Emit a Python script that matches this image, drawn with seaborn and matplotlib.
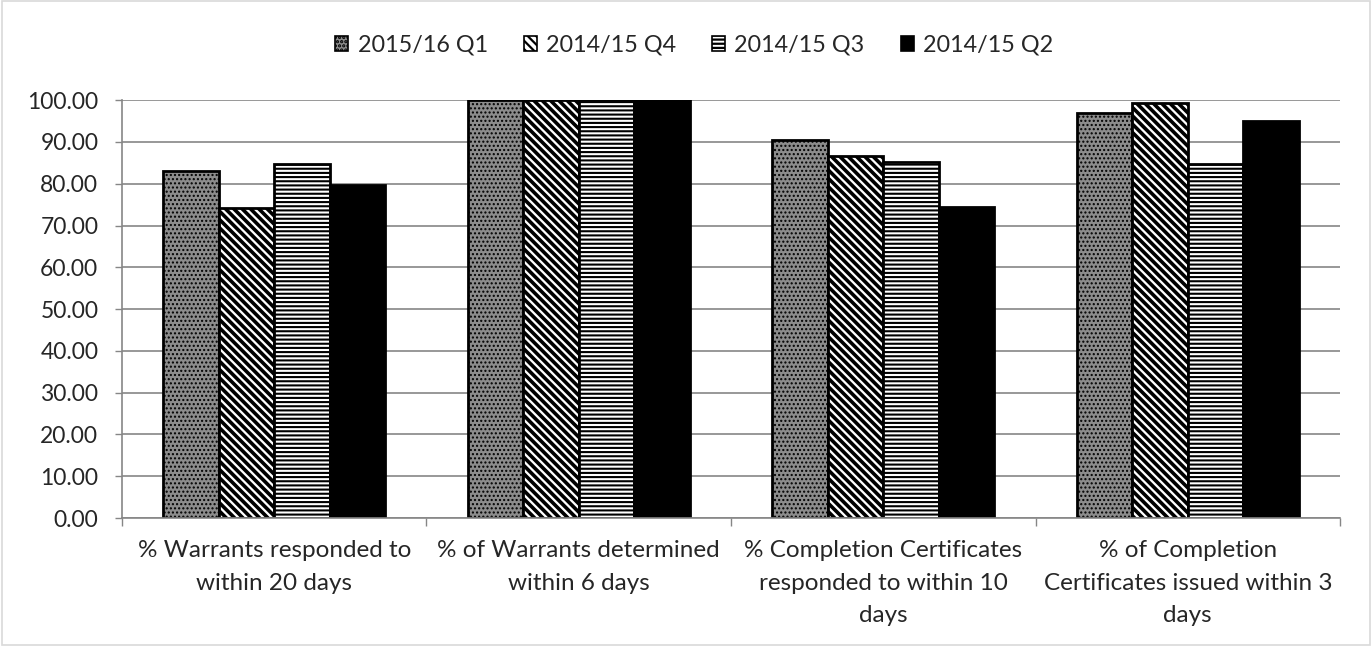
import matplotlib
matplotlib.use("Agg")
import matplotlib.pyplot as plt
import seaborn as sns
import pandas as pd
from matplotlib.patches import Rectangle, Patch

categories = [
    "% Warrants responded to\nwithin 20 days",
    "% of Warrants determined\nwithin 6 days",
    "% Completion Certificates\nresponded to within 10\ndays",
    "% of Completion\nCertificates issued within 3\ndays",
]
series = ["2015/16 Q1", "2014/15 Q4", "2014/15 Q3", "2014/15 Q2"]
q1_1516 = [83.0, 100.0, 90.5, 97.0]
q4_1415 = [74.3, 100.0, 86.6, 99.3]
q3_1415 = [84.6, 100.0, 85.3, 84.8]
q2_1415 = [79.6, 100.0, 74.4, 94.9]
y_ticks = [0, 10, 20, 30, 40, 50, 60, 70, 80, 90, 100]

values = [q1_1516, q4_1415, q3_1415, q2_1415]
rows = []
for s, vals in zip(series, values):
    for c, v in zip(categories, vals):
        rows.append({"category": c, "series": s, "value": v})
df = pd.DataFrame(rows)

sns.set_theme(style="white")
plt.rcParams["font.family"] = ["Lato", "DejaVu Sans"]
plt.rcParams["hatch.linewidth"] = 1.6

styles = {
    "2015/16 Q1": dict(facecolor="#8c8c8c", hatch="....", hcolor="white", hlw=1.0),
    "2014/15 Q4": dict(facecolor="white", hatch="\\\\\\\\", hcolor="black", hlw=2.6),
    "2014/15 Q3": dict(facecolor="white", hatch="----", hcolor="black", hlw=1.5),
    "2014/15 Q2": dict(facecolor="black", hatch="", hcolor="black", hlw=1.0),
}


def style_patch(p, st, lw):
    p.set_facecolor(st["facecolor"])
    p.set_hatch(st["hatch"])
    p.set_edgecolor("black")
    p.set_linewidth(lw)
    if hasattr(p, "set_hatchcolor"):
        p.set_hatchcolor(st["hcolor"])
    if hasattr(p, "set_hatch_linewidth"):
        p.set_hatch_linewidth(st["hlw"])


fig = plt.figure(figsize=(13.72, 6.46), dpi=100)
ax = fig.add_axes([0.0889, 0.198, 0.8878, 0.647])

sns.barplot(data=df, x="category", y="value", hue="series", order=categories,
            hue_order=series, width=0.728, gap=0, ax=ax, legend=False,
            palette=["white"] * 4, saturation=1)

for cont, s in zip(ax.containers, series):
    for bar in cont:
        style_patch(bar, styles[s], 2)

FS = 17.5
FS_Y = 16.5
FS_L = 16.8
ax.set_ylim(0, 100)
ax.set_xlim(-0.5, 3.5)
ax.set_yticks(y_ticks)
ax.set_yticklabels([f"{t:.2f}" for t in y_ticks], fontsize=FS_Y)
ax.set_xticks(range(4))
ax.set_xticklabels(categories, fontsize=FS, linespacing=1.68)
ax.set_xticks([-0.5, 0.5, 1.5, 2.5, 3.5], minor=True)
ax.tick_params(axis="x", which="major", length=0, pad=16)
ax.tick_params(axis="x", which="minor", length=6, color="#868686", width=1, direction="out", bottom=True)
ax.tick_params(axis="y", which="major", length=5, color="#868686", width=1, direction="out", left=True, pad=12)
ax.set_xlabel("")
ax.set_ylabel("")
ax.yaxis.grid(True, color="#868686", linewidth=1.2)
ax.set_axisbelow(True)
for side in ["top", "right"]:
    ax.spines[side].set_visible(False)
for side in ["left", "bottom"]:
    ax.spines[side].set_color("#868686")
    ax.spines[side].set_linewidth(1.2)

handles = []
for s in series:
    h = Patch()
    style_patch(h, styles[s], 1.2)
    handles.append(h)
fig.legend(handles, series, loc="center", bbox_to_anchor=(0.506, 0.930), ncol=4,
           frameon=False, fontsize=FS_L, handlelength=0.56, handleheight=0.56,
           handletextpad=0.39, columnspacing=1.55)

fig.patches.append(Rectangle((0.0015, 0.002), 0.997, 0.996, transform=fig.transFigure,
                             fill=False, edgecolor="#d9d9d9", linewidth=1.2))

fig.savefig("out.png", dpi=100)
